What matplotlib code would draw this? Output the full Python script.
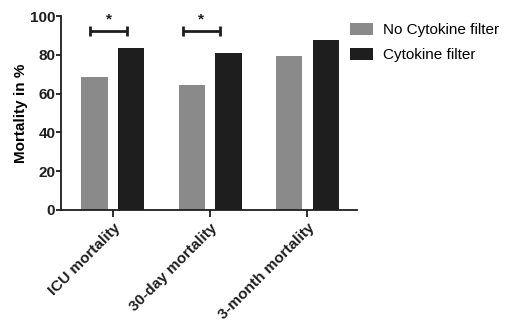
import numpy as np
import matplotlib.pyplot as plt

plt.rcParams['font.family'] = ['Liberation Sans', 'DejaVu Sans']

categories = ['ICU mortality', '30-day mortality', '3-month mortality']
no_filter = [68.6, 64.4, 79.4]
with_filter = [83.5, 80.9, 87.6]
series_names = ['No Cytokine filter', 'Cytokine filter']
# significance brackets: (category index, left, right, height)
brackets = [(0, -0.23, 0.15, 92.3), (1, -0.28, 0.10, 92.3)]

fig = plt.figure(figsize=(5.06, 3.2), dpi=100)
ax = fig.add_axes([0.1206, 0.344, 0.585, 0.606])

x = np.arange(len(categories))
w = 0.27
ax.bar(x - 0.19, no_filter, w, color='#8a8a8a', label=series_names[0])
ax.bar(x + 0.19, with_filter, w, color='#1e1e1e', label=series_names[1])

for i, l, r, h in brackets:
    ax.plot([i + l, i + r], [h, h], color='#1e1e1e', lw=2, solid_capstyle='butt')
    for xx in (i + l, i + r):
        ax.plot([xx, xx], [h - 2.6, h + 2.6], color='#1e1e1e', lw=2, solid_capstyle='butt')
    ax.text(i + (l + r) / 2, h + 2.5, '*', ha='center', va='bottom', fontsize=11,
            fontweight='bold', color='#1e1e1e')

ax.set_xlim(-0.533, 2.51)
ax.set_ylim(0, 100)
ax.set_yticks([0, 20, 40, 60, 80, 100])
ax.set_xticks(x)
ax.set_xticklabels(categories, rotation=45, ha='right', rotation_mode='anchor',
                   fontweight='bold', fontsize=11)
for lab in ax.get_yticklabels():
    lab.set_fontweight('bold')
    lab.set_fontsize(11)
ax.set_ylabel('Mortality in %', fontweight='bold', fontsize=11)
ax.yaxis.set_label_coords(-0.113, 0.5)

for s in ['top', 'right']:
    ax.spines[s].set_visible(False)
for s in ['left', 'bottom']:
    ax.spines[s].set_linewidth(1.3)
    ax.spines[s].set_color('#1e1e1e')
ax.tick_params(axis='y', width=1.3, length=3.6, pad=0.5, color='#1e1e1e', colors='#1e1e1e')
ax.tick_params(axis='x', width=1.3, length=5, pad=3, color='#1e1e1e', colors='#1e1e1e')

ax.legend(loc='upper left', bbox_to_anchor=(0.929, 1.036), frameon=False, fontsize=11,
          handlelength=1.5, handleheight=0.85, handletextpad=0.7, labelspacing=0.7)

fig.savefig('out.png', dpi=100)
